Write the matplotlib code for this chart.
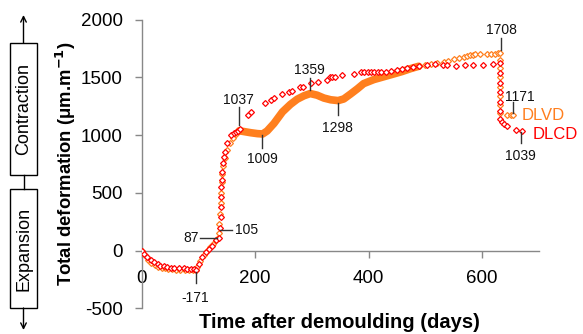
import matplotlib
matplotlib.use("Agg")
import matplotlib.pyplot as plt
from matplotlib.patches import Rectangle
from matplotlib.lines import Line2D

plt.rcParams['font.family'] = ['Liberation Sans', 'DejaVu Sans']
plt.rcParams['axes.unicode_minus'] = False

# ---- data ----
lcd_days = [0, 4, 10, 16, 22, 28, 33, 39, 45, 51, 57, 65, 74, 80, 86, 92, 96,
            101, 107, 113, 118, 124, 131, 136, 138, 139, 139.5, 140, 140.5, 141,
            142, 144, 145, 147, 150, 157, 162, 166, 170, 174, 188, 192, 218, 227,
            233, 248, 259, 265, 279, 285, 299, 311, 326, 332, 336, 340, 353, 374,
            386, 392, 398, 404, 410, 416, 422, 431, 440, 449, 458, 467, 478, 488,
            503, 517, 530, 538, 553, 570, 584, 602, 619, 632, 632, 632, 632, 632,
            632, 632, 634, 638, 643, 659, 670]
lcd_vals = [0, -30, -58, -80, -101, -118, -130, -138, -145, -150, -153, -155, -155,
            -156, -157, -160, -171, -116, -58, -15, 13, 41, 87, 105, 192, 292, 379,
            465, 552, 610, 682, 754, 811, 855, 927, 999, 1020, 1030, 1037, 1050,
            1172, 1201, 1274, 1303, 1317, 1354, 1374, 1383, 1412, 1418, 1447, 1458,
            1476, 1498, 1498, 1498, 1518, 1527, 1542, 1542, 1542, 1542, 1543, 1543,
            1545, 1548, 1552, 1560, 1568, 1576, 1590, 1599, 1605, 1613, 1605, 1605,
            1596, 1605, 1605, 1610, 1615, 1620, 1540, 1450, 1370, 1290, 1210, 1140,
            1110, 1095, 1075, 1042, 1039]

lvd_days = [0, 5, 11, 17, 23, 29, 35, 41, 47, 53, 60, 68, 76, 84, 90, 95, 98, 103,
            109, 115, 120, 126, 131, 134, 136, 137, 138, 139, 140, 141, 142, 144,
            147, 151, 155, 160, 166, 172]
lvd_vals = [0, -40, -80, -110, -125, -140, -150, -155, -160, -162, -165, -165, -168,
            -170, -171, -165, -140, -90, -40, 0, 30, 60, 87, 105, 150, 230, 320, 410,
            500, 590, 660, 730, 800, 870, 930, 970, 1010, 1037]

# densely measured part of DLVD (drawn as a band)
lvd_dense_days = [172, 180, 192, 204, 213, 221, 233, 248, 262, 274, 286, 297, 309,
                  321, 333, 346, 356, 368, 380, 391, 409, 427, 445, 459, 474, 488]
lvd_dense_vals = [1037, 1030, 1020, 1012, 1009, 1035, 1100, 1200, 1265, 1310, 1340,
                  1359, 1345, 1320, 1305, 1298, 1312, 1355, 1400, 1445, 1480, 1505,
                  1530, 1550, 1575, 1595]

lvd_late_days = [488, 500, 509, 520, 532, 540, 550, 559, 567, 574, 578, 583, 587, 596,
                 608, 616, 622, 628, 632, 632, 632, 632, 632, 632, 632, 632, 643, 650,
                 654]
lvd_late_vals = [1595, 1605, 1615, 1627, 1635, 1644, 1655, 1664, 1675, 1684, 1690,
                 1695, 1698, 1700, 1700, 1705, 1705, 1707, 1708, 1650, 1580, 1500, 1420,
                 1340, 1260, 1190, 1172, 1171, 1171]

# annotations: label, line start (x,y), line end (x,y), text (x,y), ha
annotations = [
    ("1037", (172, 1086), (172, 1241), (171, 1302), 'center'),
    ("1009", (212, 999), (212, 887), (212, 792), 'center'),
    ("1359", (296, 1388), (296, 1492), (296, 1567), 'center'),
    ("1298", (345, 1276), (345, 1172), (345, 1057), 'center'),
    ("1708", (633, 1734), (633, 1838), (633, 1913), 'center'),
    ("1171", (653.5, 1189), (653.5, 1285), (666, 1328), 'center'),
    ("1039", (669, 1028), (669, 930), (667.5, 820), 'center'),
    ("-171", (95, -183), (95, -281), (95, -413), 'center'),
    ("87", (133, 105), (102.7, 105), (101, 105), 'right'),
    ("105", (138, 177), (158.5, 177), (164, 177), 'left'),
]

ORANGE = '#FF7F1E'
RED = '#FF0000'

W, H = 583, 334
fig = plt.figure(figsize=(W / 100, H / 100), dpi=100)

def fx(px):
    return px / W

def fy(py):
    return 1 - py / H

ax = fig.add_axes([fx(141.7), fy(308.3), fx(539) - fx(141.7), fy(19.5) - fy(308.3)])
ax.set_xlim(0, 700)
ax.set_ylim(-500, 2000)

mk = dict(marker='D', markersize=3.0, markerfacecolor='white', markeredgewidth=0.9,
          linestyle='none')
ax.plot(lvd_days, lvd_vals, color=ORANGE, markeredgecolor=ORANGE, zorder=3, **mk)
ax.plot(lvd_dense_days, lvd_dense_vals, color=ORANGE, lw=5.5, solid_capstyle='round',
        zorder=3)
ax.plot(lvd_late_days, lvd_late_vals, color=ORANGE, markeredgecolor=ORANGE, zorder=3, **mk)
ax.plot(lcd_days, lcd_vals, color=RED, markeredgecolor=RED, zorder=4, **mk)

for lab, p0, p1, pt, ha in annotations:
    ax.plot([p0[0], p1[0]], [p0[1], p1[1]], color='#333333', lw=1.0, clip_on=False,
            zorder=5)
    ax.text(pt[0], pt[1], lab, ha=ha, va='center', fontsize=10, color='#111111',
            clip_on=False)

ax.text(669, 1172, "DLVD", color=ORANGE, fontsize=12, ha='left', va='center',
        clip_on=False)
ax.text(689, 1008, "DLCD", color=RED, fontsize=12, ha='left', va='center',
        clip_on=False)

for s in ['top', 'right']:
    ax.spines[s].set_visible(False)
ax.spines['bottom'].set_position(('data', 0))
for s in ['left', 'bottom']:
    ax.spines[s].set_color('#888888')
    ax.spines[s].set_linewidth(1.0)

ax.set_xticks([0, 200, 400, 600])
ax.set_yticks([-500, 0, 500, 1000, 1500, 2000])
ax.tick_params(axis='both', direction='out', length=5, width=1, color='#888888',
               labelsize=13.5, pad=8.5)
ax.tick_params(axis='x', pad=9)

ax.set_xlabel("Time after demoulding (days)", fontsize=14.5, fontweight='bold')
ax.xaxis.set_label_coords(0.497, -0.018)
ax.set_ylabel("Total deformation (μm.m$^{\\mathbf{-1}}$)", fontsize=13.3,
              fontweight='bold')
ax.yaxis.set_label_coords(-0.16, 0.5)

# left-side decoration
cx = 23.5
fig.add_artist(Rectangle((fx(10), fy(175)), fx(37) - fx(10), fy(43) - fy(175),
                         transform=fig.transFigure, fill=False, ec='black', lw=1))
fig.add_artist(Rectangle((fx(10), fy(308)), fx(37) - fx(10), fy(189) - fy(308),
                         transform=fig.transFigure, fill=False, ec='black', lw=1))
fig.add_artist(Line2D([fx(cx), fx(cx)], [fy(175), fy(189)], transform=fig.transFigure,
                      color='black', lw=1))
ann_kw = dict(xycoords='figure fraction', textcoords='figure fraction',
              arrowprops=dict(arrowstyle='->', color='black', lw=1,
                              shrinkA=0, shrinkB=0, mutation_scale=10))
fig.add_artist(plt.Annotation('', xy=(fx(cx), fy(15)), xytext=(fx(cx), fy(43)), **ann_kw))
fig.add_artist(plt.Annotation('', xy=(fx(cx), fy(330)), xytext=(fx(cx), fy(308)), **ann_kw))
fig.text(fx(cx), fy(109), "Contraction", rotation=90, ha='center', va='center',
         fontsize=13)
fig.text(fx(cx), fy(248.5), "Expansion", rotation=90, ha='center', va='center',
         fontsize=13)

fig.savefig("out.png", dpi=100)
